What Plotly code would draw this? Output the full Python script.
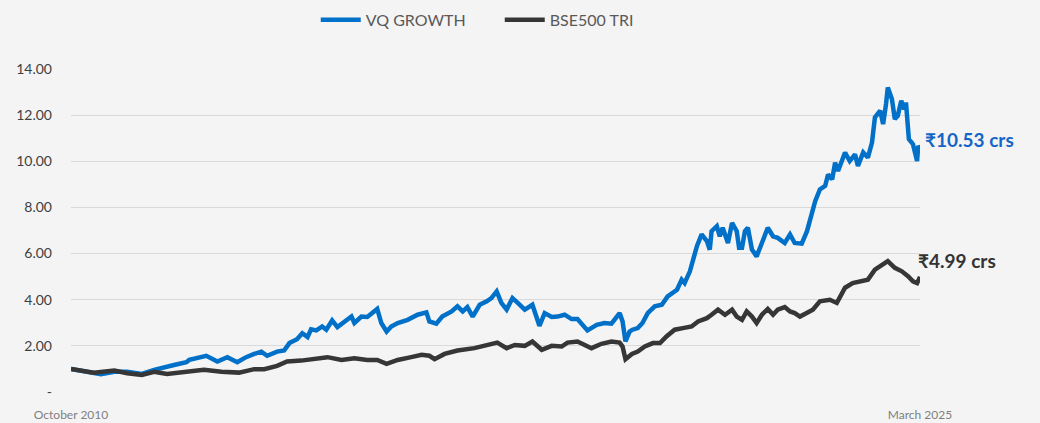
import plotly.graph_objects as go

# time axis in decimal years (Oct 2010 -> Mar 2025)
vq_t = [2010.75, 2010.97, 2011.26, 2011.49, 2011.71, 2011.96, 2012.17, 2012.51, 2012.72, 2012.77,
        2013.06, 2013.25, 2013.42, 2013.59, 2013.74, 2013.88, 2014.00, 2014.10, 2014.27, 2014.39,
        2014.48, 2014.61, 2014.70, 2014.79, 2014.85, 2014.94, 2015.04, 2015.11, 2015.21, 2015.30,
        2015.42, 2015.54, 2015.59, 2015.71, 2015.81, 2015.90, 2015.98, 2016.05, 2016.14, 2016.22,
        2016.33, 2016.50, 2016.67, 2016.82, 2016.87, 2016.99, 2017.09, 2017.25, 2017.35, 2017.44,
        2017.52, 2017.61, 2017.73, 2017.85, 2017.93, 2018.02, 2018.10, 2018.19, 2018.29, 2018.38,
        2018.50, 2018.63, 2018.75, 2018.84, 2018.96, 2019.06, 2019.18, 2019.30, 2019.40, 2019.57,
        2019.73, 2019.86, 2019.98, 2020.12, 2020.17, 2020.22, 2020.29, 2020.34, 2020.43, 2020.51,
        2020.60, 2020.72, 2020.84, 2020.94, 2021.03, 2021.10, 2021.18, 2021.23, 2021.32, 2021.37,
        2021.44, 2021.52, 2021.61, 2021.66, 2021.69, 2021.78, 2021.83, 2021.88, 2021.97, 2022.04,
        2022.12, 2022.16, 2022.21, 2022.26, 2022.31, 2022.38, 2022.46, 2022.55, 2022.65, 2022.74,
        2022.82, 2022.94, 2023.03, 2023.11, 2023.23, 2023.32, 2023.40, 2023.46, 2023.54, 2023.63,
        2023.68, 2023.75, 2023.80, 2023.85, 2023.97, 2024.05, 2024.14, 2024.19, 2024.28, 2024.36,
        2024.43, 2024.48, 2024.57, 2024.62, 2024.67, 2024.70, 2024.77, 2024.82, 2024.87, 2024.93,
        2024.98, 2025.01, 2025.06, 2025.13, 2025.20, 2025.22, 2025.25]
vq_v = [1.00, 0.90, 0.77, 0.88, 0.88, 0.78, 0.96, 1.17, 1.29, 1.39,
        1.57, 1.32, 1.51, 1.29, 1.51, 1.65, 1.75, 1.57, 1.75, 1.80,
        2.12, 2.29, 2.55, 2.38, 2.72, 2.67, 2.84, 2.70, 3.10, 2.81,
        3.06, 3.27, 2.99, 3.27, 3.25, 3.42, 3.60, 2.99, 2.62, 2.84,
        2.99, 3.13, 3.35, 3.45, 3.06, 2.96, 3.27, 3.49, 3.71, 3.49,
        3.68, 3.27, 3.78, 3.93, 4.07, 4.36, 3.86, 3.57, 4.07, 3.86,
        3.57, 3.78, 2.87, 3.42, 3.25, 3.27, 3.35, 3.16, 3.16, 2.67,
        2.91, 2.99, 2.96, 3.42, 3.06, 2.19, 2.62, 2.70, 2.77, 2.99,
        3.42, 3.71, 3.78, 4.14, 4.29, 4.43, 4.87, 4.72, 5.23, 5.74,
        6.32, 6.83, 6.54, 6.17, 6.97, 7.19, 6.75, 7.12, 6.46, 7.33,
        6.97, 6.25, 6.25, 6.97, 7.12, 6.17, 5.88, 6.46, 7.12, 6.75,
        6.68, 6.46, 6.83, 6.46, 6.43, 6.97, 7.77, 8.27, 8.78, 8.93,
        9.43, 9.22, 9.94, 9.58, 10.38, 10.01, 10.30, 9.80, 10.38, 10.16,
        10.81, 11.90, 12.19, 11.61, 12.48, 13.20, 12.70, 11.83, 11.97, 12.62,
        12.26, 12.55, 10.96, 10.74, 10.01, 10.67, 10.53]

bse_t = [2010.75, 2011.14, 2011.49, 2011.71, 2011.96, 2012.17, 2012.39, 2012.68, 2013.02, 2013.32,
         2013.62, 2013.88, 2014.05, 2014.27, 2014.44, 2014.68, 2014.85, 2015.13, 2015.37, 2015.59,
         2015.81, 2015.98, 2016.14, 2016.33, 2016.56, 2016.74, 2016.87, 2016.96, 2017.13, 2017.35,
         2017.64, 2017.86, 2018.03, 2018.19, 2018.33, 2018.50, 2018.63, 2018.79, 2018.96, 2019.13,
         2019.23, 2019.40, 2019.64, 2019.81, 2019.98, 2020.12, 2020.17, 2020.22, 2020.33, 2020.43,
         2020.55, 2020.69, 2020.81, 2020.92, 2021.06, 2021.20, 2021.35, 2021.46, 2021.61, 2021.69,
         2021.80, 2021.92, 2022.04, 2022.12, 2022.21, 2022.29, 2022.38, 2022.46, 2022.55, 2022.65,
         2022.74, 2022.82, 2022.94, 2023.03, 2023.11, 2023.20, 2023.42, 2023.54, 2023.71, 2023.83,
         2023.97, 2024.10, 2024.26, 2024.36, 2024.48, 2024.60, 2024.70, 2024.82, 2024.94, 2025.05,
         2025.13, 2025.20, 2025.25]
bse_v = [1.00, 0.84, 0.93, 0.81, 0.74, 0.88, 0.78, 0.86, 0.96, 0.88,
         0.84, 0.99, 0.99, 1.13, 1.32, 1.36, 1.42, 1.51, 1.39, 1.46,
         1.39, 1.39, 1.22, 1.39, 1.51, 1.61, 1.57, 1.42, 1.65, 1.80,
         1.90, 2.04, 2.14, 1.90, 2.04, 2.00, 2.19, 1.83, 2.00, 1.97,
         2.14, 2.19, 1.90, 2.09, 2.19, 2.14, 1.97, 1.42, 1.65, 1.75,
         1.97, 2.12, 2.12, 2.41, 2.70, 2.77, 2.84, 3.06, 3.20, 3.35,
         3.57, 3.35, 3.57, 3.27, 3.13, 3.49, 3.27, 2.99, 3.35, 3.60,
         3.35, 3.57, 3.68, 3.49, 3.42, 3.27, 3.57, 3.93, 4.00, 3.86,
         4.52, 4.72, 4.80, 4.87, 5.30, 5.52, 5.67, 5.38, 5.23, 5.01,
         4.80, 4.72, 4.99]

series_names = ["VQ GROWTH", "BSE500 TRI"]
end_labels = ["₹10.53 crs", "₹4.99 crs"]
y_ticks = [0, 2, 4, 6, 8, 10, 12, 14]
y_tick_text = ["-", "2.00", "4.00", "6.00", "8.00", "10.00", "12.00", "14.00"]
x_ticks = [2010.75, 2025.25]
x_tick_text = ["October 2010", "March 2025"]

BLUE = "#0070C8"
DARK = "#363636"
BG = "#F4F4F4"
FONT = "Lato"

fig = go.Figure()
fig.add_trace(go.Scatter(x=vq_t, y=vq_v, mode="lines", name=series_names[0],
                         line=dict(color=BLUE, width=4.5)))
fig.add_trace(go.Scatter(x=bse_t, y=bse_v, mode="lines", name=series_names[1],
                         line=dict(color=DARK, width=4.5)))

fig.add_annotation(x=vq_t[-1], y=vq_v[-1], text="<b>" + end_labels[0] + "</b>",
                   showarrow=False, xanchor="left", yanchor="middle", xshift=3, yshift=10,
                   font=dict(family=FONT, size=19, color="#1466C6"))
fig.add_annotation(x=bse_t[-1], y=bse_v[-1], text="<b>" + end_labels[1] + "</b>",
                   showarrow=False, xanchor="left", yanchor="middle", xshift=-4, yshift=16,
                   font=dict(family=FONT, size=19, color="#333333"))

fig.update_layout(
    width=1040, height=423,
    margin=dict(l=71, r=120, t=69, b=31, autoexpand=False),
    paper_bgcolor=BG, plot_bgcolor=BG,
    font=dict(family=FONT, color="#404040"),
    showlegend=True,
    legend=dict(orientation="h", x=0.505, xanchor="center", y=1.152, yanchor="middle",
                font=dict(family=FONT, size=16, color="#595959"),
                bgcolor="rgba(0,0,0,0)", itemwidth=40, entrywidth=129),
    xaxis=dict(range=[2010.75, 2025.25], tickvals=x_ticks, ticktext=x_tick_text,
               showgrid=False, zeroline=False, showline=False, ticklabelstandoff=14,
               tickfont=dict(family=FONT, size=12, color="#7F7F7F")),
    yaxis=dict(range=[0, 14], tickvals=y_ticks, ticktext=y_tick_text,
               showgrid=True, gridcolor="#D9D9D9", gridwidth=1, zeroline=False,
               showline=False, ticks="", ticklabelstandoff=18,
               tickfont=dict(family=FONT, size=14, color="#404040")),
)

fig.write_html("out.html", config={"displayModeBar": False},
               post_script="document.body.style.margin='0';document.body.style.background='#F4F4F4';")
